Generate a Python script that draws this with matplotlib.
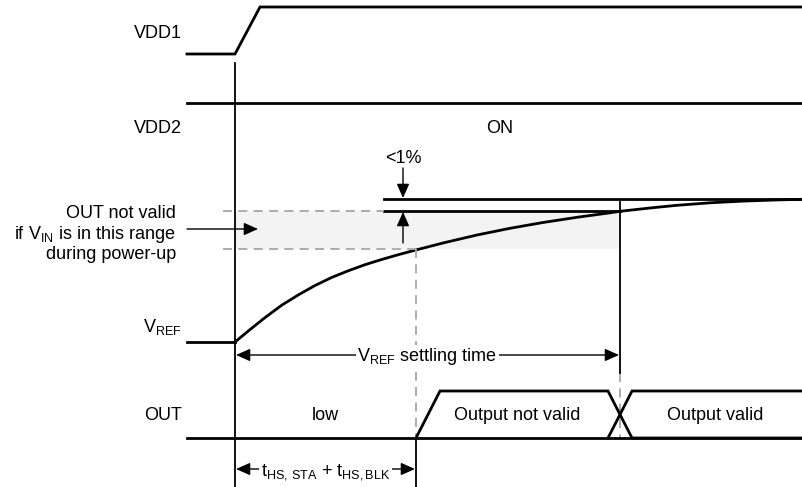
import matplotlib
matplotlib.use("Agg")
import matplotlib.pyplot as plt
from matplotlib.patches import Rectangle

plt.rcParams['font.family'] = ['Liberation Sans', 'DejaVu Sans']
plt.rcParams['mathtext.fontset'] = 'custom'
plt.rcParams['mathtext.rm'] = 'Liberation Sans'
plt.rcParams['mathtext.it'] = 'Liberation Sans'

# ---- diagram data (time axis in diagram units, level axis in diagram units) ----
x_left, x_right = 187, 803
t_power = 235            # power-up instant
t_vdd1_high = 260        # VDD1 reaches its high level
t_blank = 416            # t_HS,STA + t_HS,BLK
t_out_rise = 440         # OUT reaches "not valid" level
t_settle = 620           # V_REF settled
cross_half = 12          # half-width of the transition "X"

vdd1_levels = [54, 7]          # low, high
vdd2_level = 103
vref_low = 342
vref_final = 199
band_top, band_bot = 211, 249  # "OUT not valid" V_IN range
out_levels = [438, 391]        # low, high

# V_REF settling curve
vref_x = [235, 250, 265, 282, 299, 315, 332, 349, 365, 382, 399, 417, 443,
          477, 510, 543, 577, 610, 620, 650, 677, 710, 743, 775, 803]
vref_y = [342, 329.6, 317.6, 305, 294.5, 285.5, 277.3, 270.5, 264.7, 259.4,
          254.5, 249.7, 243.0, 235.0, 228.3, 222.5, 217.3, 212.8, 211.3, 208,
          205.3, 202.8, 201.1, 200, 199.3]

signal_labels = ['VDD1', 'VDD2', 'V$_{\\mathrm{REF}}$', 'OUT']
signal_label_y = [38, 133, 332, 420]
region_texts = ['ON', 'low', 'Output not valid', 'Output valid']

# ---- figure ----
fig = plt.figure(figsize=(8.03, 4.87), dpi=100)
ax = fig.add_axes([0, 0, 1, 1])
ax.set_xlim(0, 803)
ax.set_ylim(487, 0)
ax.axis('off')

K = 'black'
LW = 2.0
GRAY = '#a6a6a6'
FS = 13

# shaded range
ax.add_patch(Rectangle((t_power, band_top), t_settle - t_power, band_bot - band_top,
                       facecolor='#f3f3f3', edgecolor='none', zorder=0))

# VDD1
ax.plot([x_left, t_power, t_vdd1_high, x_right],
        [vdd1_levels[0], vdd1_levels[0], vdd1_levels[1], vdd1_levels[1]],
        color=K, lw=LW, solid_joinstyle='miter')
# VDD2
ax.plot([x_left, x_right], [vdd2_level, vdd2_level], color=K, lw=LW)
# VREF
ax.plot([x_left, t_power], [vref_low, vref_low], color=K, lw=LW)
ax.plot(vref_x, vref_y, color=K, lw=LW, solid_joinstyle='round')
# final value lines
ax.plot([384, x_right], [vref_final, vref_final], color=K, lw=LW)
ax.plot([384, t_settle], [band_top, band_top], color=K, lw=LW)

# dashed range lines
DASH = (0, (5, 3.5))
ax.plot([223, 384], [band_top, band_top], color=GRAY, lw=1.3, ls=DASH)
ax.plot([223, t_blank], [band_bot, band_bot], color=GRAY, lw=1.3, ls=DASH)
ax.plot([t_blank, t_blank], [band_bot, out_levels[0]], color=GRAY, lw=1.3, ls=DASH)
ax.plot([t_settle, t_settle], [373, out_levels[0]], color=GRAY, lw=1.3, ls=DASH)

# OUT
xa, xb = t_settle - cross_half, t_settle + cross_half
ax.plot([x_left, x_right], [out_levels[0], out_levels[0]], color=K, lw=LW)
ax.plot([t_blank, t_out_rise, xa, xb, x_right],
        [out_levels[0], out_levels[1], out_levels[1], out_levels[0], out_levels[0]],
        color=K, lw=LW, solid_joinstyle='miter')
ax.plot([xa, xb, x_right], [out_levels[0], out_levels[1], out_levels[1]],
        color=K, lw=LW, solid_joinstyle='miter')

# vertical markers
ax.plot([t_power, t_power], [63, 487], color=K, lw=1.3)
ax.plot([t_settle, t_settle], [202, 373], color=K, lw=1.3)
ax.plot([t_blank, t_blank], [out_levels[0], 487], color=K, lw=1.3)


def arrow(x0, y0, x1, y1, both=False):
    style = '<|-|>' if both else '-|>'
    ax.annotate('', xy=(x1, y1), xytext=(x0, y0),
                arrowprops=dict(arrowstyle=style + ',head_length=0.45,head_width=0.2',
                                mutation_scale=19, color=K, lw=1.0,
                                shrinkA=0, shrinkB=0))


# <1% arrows
arrow(403, 168, 403, vref_final - 1)
arrow(403, 243, 403, band_top + 1)
ax.text(403, 163, '<1%', ha='center', va='baseline', fontsize=FS)
# range pointer
arrow(187, 229, 258, 229)
# settling time arrow
arrow(t_power + 1, 355, t_settle - 1, 355, both=True)
ax.text((t_power + t_settle) / 2, 361, 'V$_{\\mathrm{REF}}$ settling time',
        ha='center', va='baseline', fontsize=FS,
        bbox=dict(facecolor='white', edgecolor='none', pad=1.0))
# blanking arrow
arrow(t_power + 1, 469, t_blank - 1, 469, both=True)
ax.text((t_power + t_blank) / 2, 476, 't$_{\\mathrm{HS,\\,STA}}$ + t$_{\\mathrm{HS,BLK}}$',
        ha='center', va='baseline', fontsize=FS,
        bbox=dict(facecolor='white', edgecolor='none', pad=1.0))

# signal labels
for lab, y in zip(signal_labels, signal_label_y):
    ax.text(182, y, lab, ha='right', va='baseline', fontsize=FS)

# range explanation
for txt, y in zip(['OUT not valid', 'if V$_{\\mathrm{IN}}$ is in this range', 'during power-up'],
                  [218, 239, 259]):
    ax.text(176, y, txt, ha='right', va='baseline', fontsize=FS)

# region texts
ax.text(500, 133, region_texts[0], ha='center', va='baseline', fontsize=FS)
ax.text((t_power + t_blank) / 2, 420, region_texts[1], ha='center', va='baseline', fontsize=FS)
ax.text(517, 420, region_texts[2], ha='center', va='baseline', fontsize=FS)
ax.text(715, 420, region_texts[3], ha='center', va='baseline', fontsize=FS)

fig.savefig('out.png', dpi=100)
